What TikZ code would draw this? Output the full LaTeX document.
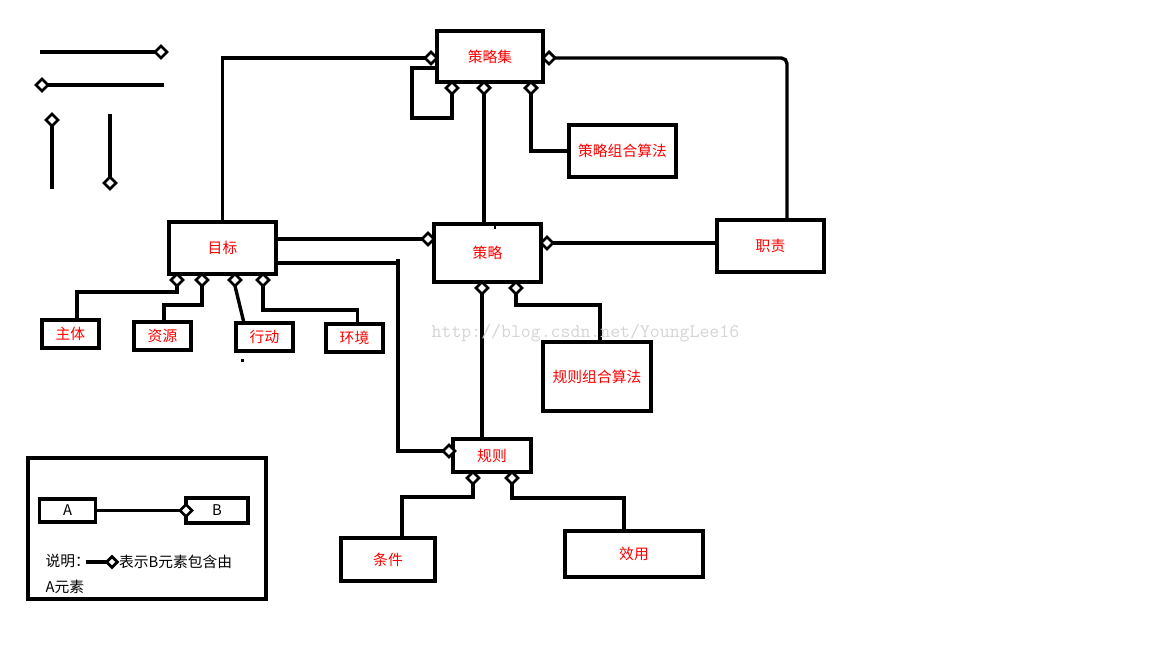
\documentclass[tikz,border=0pt]{standalone}
\usepackage{fontspec}
\newfontfamily\cjk{Noto Sans CJK SC}
\usetikzlibrary{shapes.geometric,calc}
\definecolor{labc}{RGB}{255,0,0}
\definecolor{wmc}{RGB}{212,212,212}

\begin{document}
\begin{tikzpicture}[x=0.025cm,y=-0.025cm,line width=2.4pt,
  font=\cjk\fontsize{10.5}{12}\selectfont,
  box/.style={draw,line width=2.4pt,inner sep=0pt,outer sep=0pt,text=labc},
  bx/.style 2 args={minimum width=#1*0.025cm,minimum height=#2*0.025cm},
  dia/.style={diamond,draw,fill=white,line width=2pt,inner sep=0pt,outer sep=0pt,
    minimum width=0.3cm,minimum height=0.3cm},
  legtext/.style={inner sep=0pt,text=black,anchor=west}]
\useasboundingbox (0,0) rectangle (1152,648);

%================= sample strokes, top left =================
\coordinate (s1) at (40,52);  \node[dia] (ds1) at (161,52) {};
\node[dia] (ds2) at (42,85) {}; \coordinate (s2) at (164,85);
\node[dia] (ds3) at (52,120) {}; \coordinate (s3) at (52,189);
\coordinate (s4) at (110,114); \node[dia] (ds4) at (110,183) {};
\draw (s1) -- (ds1);
\draw (ds2) -- (s2);
\draw (ds3) -- (s3);
\draw (s4) -- (ds4);

%================= boxes =================
\node[box,bx={106}{51}] (set) at (490,56.5) {策略集};
\node[box,bx={107}{52}] (setalg) at (622.5,151) {策略组合算法};
\node[box,bx={107}{52}] (duty) at (770.5,246) {职责};
\node[box,bx={107}{58}] (policy) at (487.5,253) {策略};
\node[box,bx={107}{52}] (goal) at (222.5,248) {目标};
\node[box,bx={57}{28}] (subj) at (70.5,334) {主体};
\node[box,bx={57}{28}] (res) at (162.5,336) {资源};
\node[box,bx={57}{28}] (act) at (264.5,337) {行动};
\node[box,bx={57}{28}] (env) at (354.5,338) {环境};
\node[box,bx={108}{69}] (rulealg) at (597,376.5) {规则组合算法};
\node[box,bx={78}{33}] (rule) at (492,455.5) {规则};
\node[box,bx={94}{43}] (cond) at (388,559.5) {条件};
\node[box,bx={138}{46}] (eff) at (634,554) {效用};

% --- small marks
\draw[line width=1.5pt] (495,224) -- ++(0,5);
\fill (240.5,359.5) rectangle ++(3,3);

%================= diamonds =================
\node[dia] (dSetW) at (431,58) {};
\node[dia] (dSetE) at (549,58) {};
\node[dia] (dSetS1) at (452,88) {};
\node[dia] (dSetS2) at (484,88) {};
\node[dia] (dSetS3) at (531,88) {};
\node[dia] (dPolW) at (428,239) {};
\node[dia] (dPolE) at (547,243) {};
\node[dia] (dPolS1) at (482,288) {};
\node[dia] (dPolS2) at (516,288) {};
\foreach \x/\n in {177/1,202/2,235/3,263/4}{\node[dia] (dGoal\n) at (\x,280) {};}
\node[dia] (dRuleW) at (449,451) {};
\node[dia] (dRuleS1) at (473,478) {};
\node[dia] (dRuleS2) at (512,478) {};

%================= connectors =================
% --- 策略集
\draw (goal.north) |- (dSetW);
\draw ($(set.north west)+(0,37)$) -- ++(-25,0) -- ++(0,50) -| (dSetS1);
\draw (dSetS2) -- (dSetS2 |- policy.north);
\draw (dSetS3) |- (setalg.west);
\draw[rounded corners=4pt] (dSetE) -| ($(duty.north east)+(-37,0)$);

% --- 策略
\draw ($(goal.north east)+(0,17)$) -- (dPolW);
\draw (dPolE) -- (dPolE -| duty.west);
\draw (dPolS1) -- (dPolS1 |- rule.north);
\draw (dPolS2.south) -- ++(0,11) -| ($(rulealg.north)+(3,0)$);

% --- 目标
\coordinate (bend) at (398,263);
\draw ($(goal.south east)+(0,-11)$) -- (bend);
\draw ($(bend)+(0,-4)$) |- (dRuleW);
\draw (dGoal1.south) -- ++(0,6) -| ($(subj.north)+(6.5,0)$);
\draw (dGoal2.south) -- ++(0,19) -| ($(res.north)+(1.5,0)$);
\draw (dGoal3.south) -- ($(act.north)+(-20.5,0)$);
\draw (dGoal4.south) -- ++(0,24) -| ($(env.north)+(3,0)$);

% --- 规则
\draw (dRuleS1.south) -- ++(0,13) -| ($(cond.north)+(14,0)$);
\draw (dRuleS2.south) -- ++(0,14) -| ($(eff.north)+(-10,0)$);

%================= legend =================
\node[draw,inner sep=0pt,outer sep=0pt,bx={238}{141}] (legend) at (147,528.5) {};
\node[box,text=black,bx={56}{23}] (A) at (67.5,510.5) {A};
\node[box,text=black,bx={62}{25}] (B) at (217,510.5) {B};
\node[dia] (dB) at (186,510.5) {};
\draw (A.east) -- (dB);
\node[legtext] (note) at (44,561) {说明：};
\node[dia,minimum width=0.27cm,minimum height=0.27cm] (dNote) at (112,562) {};
\draw ($(note.east)+(-6,1)$) -- (dNote);
\node[legtext] (noteb) at (dNote.east) {表示B元素包含由};
\node[legtext] (notec) at (44,587) {A元素};

% --- watermark
\node[inner sep=0pt,anchor=west,text=wmc,font=\ttfamily\fontsize{13.7}{14}\selectfont]
  (wm) at (430,333) {http://blog.csdn.net/YoungLee16};
\end{tikzpicture}
\end{document}
